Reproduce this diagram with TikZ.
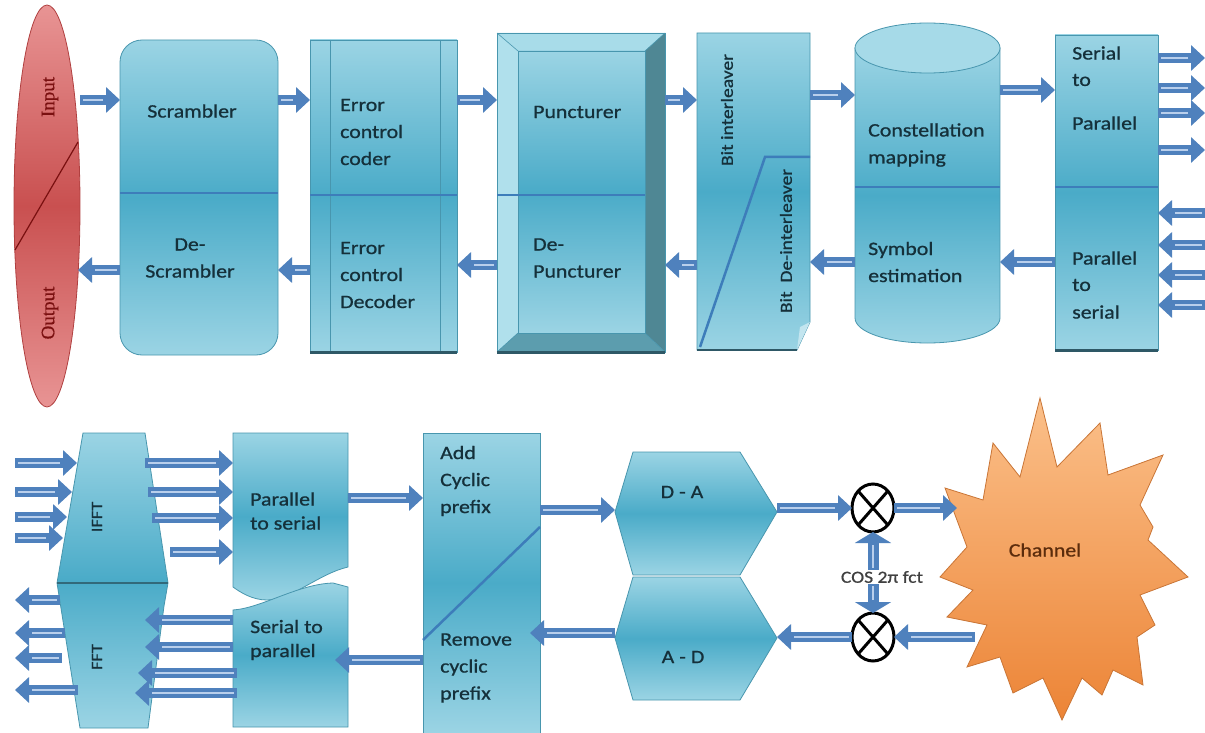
\documentclass[tikz,border=0pt]{standalone}
\usepackage{fontspec}
\setmainfont{Carlito}[FakeStretch=1.15,FakeBold=0.8]
\newfontfamily\ioserif{Liberation Serif}[FakeBold=0.6]
\usetikzlibrary{shapes.geometric,arrows.meta,calc}
\definecolor{boxL}{HTML}{9BD4E4}
\definecolor{boxM}{HTML}{4AABC8}
\definecolor{boxE}{HTML}{4896AE}
\definecolor{divl}{HTML}{3D7DBA}
\definecolor{arrblue}{HTML}{4F81BD}
\definecolor{arrL}{HTML}{B9CFEC}
\definecolor{txt}{HTML}{15303A}
\definecolor{redL}{HTML}{E89494}
\definecolor{redM}{HTML}{C95050}
\definecolor{redE}{HTML}{B04040}
\definecolor{redLine}{HTML}{7A1010}
\definecolor{orL}{HTML}{FBC08A}
\definecolor{orD}{HTML}{EC8436}
\definecolor{orE}{HTML}{C97536}
\definecolor{chTxt}{HTML}{5B2C0C}
\definecolor{shadowc}{HTML}{2E5866}
\definecolor{bevTop}{HTML}{A8DCE9}
\definecolor{bevLeft}{HTML}{B0E0EC}
\definecolor{bevRight}{HTML}{4F8794}
\definecolor{bevBot}{HTML}{5C9DAE}
\definecolor{cylTop}{HTML}{A6DAE8}
\begin{document}
\begin{tikzpicture}[x=1pt,y=-1pt,
  box/.style={draw=boxE, line width=0.8pt, top color=boxL, bottom color=boxL, middle color=boxM, inner sep=0pt, outer sep=0pt},
  hid/.style={inner sep=0pt, outer sep=0pt, draw=none},
  divider/.style={draw=divl, line width=2.5pt},
  shadowline/.style={draw=shadowc, line width=3pt},
  barrow/.style={draw=arrblue, line width=9.5pt, -{Triangle[length=14pt,width=25pt]}, postaction={draw=arrL, line width=2pt, -, shorten >=17pt, shorten <=3pt}},
  barrowS/.style={draw=arrblue, line width=11pt, -{Triangle[length=11pt,width=36pt]}, postaction={draw=arrL, line width=2pt, -, shorten >=13pt, shorten <=2pt}},
  lbl/.style={font=\fontsize{19}{27}\selectfont, text=txt, inner sep=0pt, align=left},
  lblb/.style={font=\fontsize{19}{24}\selectfont, text=txt, inner sep=0pt, align=left},
  rlbl/.style={font=\fontsize{17}{20}\selectfont, text=txt, inner sep=0pt, rotate=90},
  iolbl/.style={font=\ioserif\fontsize{19}{20}\selectfont, text=redLine, inner sep=0pt, rotate=90},
  mix/.style={ellipse, draw=black, line width=3pt, minimum width=42pt, minimum height=48pt, inner sep=0pt, outer sep=0pt}
]
\useasboundingbox (0,0) rectangle (1205,733);
\fill[white] (0,0) rectangle (1205,733);

% ---------------- top row ----------------
\node[ellipse, draw=redE, line width=0.8pt, top color=redL, bottom color=redL, middle color=redM, minimum width=66pt, minimum height=402pt, inner sep=0pt, outer sep=0pt] (io) at (47,206) {};
\draw[redLine, line width=1.2pt] (78,142) -- (15,250);
\node[iolbl] (inp) at (50,97) {Input};
\node[iolbl] (outp) at (50,313) {Output};

\node[box, rounded corners=22pt, minimum width=158pt, minimum height=315pt] (scr) at (199,197.5) {};
\draw[divider] (scr.west|-0,193) -- (scr.east|-0,193);
\node[lbl] (scrT) at (192,111) {Scrambler};
\node[lbl, align=center] (dscrT) at (190,258) {De-\\Scrambler};

\node[box, minimum width=147pt, minimum height=312pt] (ecc) at (383.5,196) {};
\draw[boxE, line width=0.8pt] (330,40) -- (330,352) (440,40) -- (440,352);
\draw[shadowline] (ecc.south west) -- (ecc.south east);
\draw[divider] (ecc.west|-0,195) -- (ecc.east|-0,195);
\node[lbl, anchor=west] (eccT) at (340,132) {Error\\control\\coder};
\node[lbl, anchor=west] (ecdT) at (340,275) {Error\\control\\Decoder};

\node[hid, minimum width=168pt, minimum height=319pt] (pun) at (581,192.5) {};
\fill[bevTop] (497,33) -- (665,33) -- (645,51) -- (518,51) -- cycle;
\fill[bevLeft] (497,33) -- (518,51) -- (518,333) -- (497,352) -- cycle;
\fill[bevRight] (665,33) -- (665,352) -- (645,333) -- (645,51) -- cycle;
\fill[bevBot] (497,352) -- (665,352) -- (645,333) -- (518,333) -- cycle;
\path[box] (518,51) rectangle (645,333);
\draw[boxE, line width=0.8pt] (pun.north west) rectangle (pun.south east);
\draw[boxE, line width=0.6pt] (497,33) -- (518,51) (665,33) -- (645,51) (665,352) -- (645,333) (497,352) -- (518,333);
\draw[shadowline] (pun.south west) -- (pun.south east);
\draw[divider] (pun.west|-0,195) -- (645,195);
\node[lbl, anchor=west] (punT) at (533,112) {Puncturer};
\node[lbl, anchor=west] (dpunT) at (533,258) {De-\\Puncturer};

\node[hid, minimum width=113pt, minimum height=317pt] (bit) at (753.5,191.5) {};
\path[box] (697,33) -- (810,33) -- (810,322) -- (797,350) -- (697,350) -- cycle;
\fill[boxL!60!white] (797,350) -- (800,327) -- (810,322) -- cycle;
\draw[divider] (700,347) -- (765,157) -- (810,157);
\draw[shadowc, line width=2.5pt] (697,350) -- (797,350);
\node[rlbl] (bitT) at (727,110) {Bit interleaver};
\node[rlbl] (dbitT) at (786,241) {Bit\ \ De-interleaver};

\node[hid, minimum width=145pt, minimum height=320pt] (cyl) at (927.5,183) {};
\path[box] (855,48) -- (855,318) arc[start angle=180,end angle=360,x radius=72.5pt,y radius=25pt] -- (1000,48) -- cycle;
\draw[divider] (855,187) -- (1000,187);
\filldraw[fill=cylTop, draw=boxE, line width=0.8pt] (927.5,48) ellipse [x radius=72.5pt, y radius=25pt];
\node[lbl, anchor=west] (conT) at (868,145) {Constellation\\mapping};
\node[lbl, anchor=west] (symT) at (868,262) {Symbol\\estimation};

\node[box, minimum width=103pt, minimum height=315pt] (sp) at (1106.5,192.5) {};
\draw[shadowline] (sp.south west) -- (sp.south east);
\draw[divider] (sp.west|-0,187) -- (sp.east|-0,187);
\node[lbl, anchor=west] (spT1) at (1072,53) {Serial};
\node[lbl, anchor=west] (spT2) at (1072,80) {to};
\node[lbl, anchor=west] (spT3) at (1072,123) {Parallel};
\node[lbl, anchor=west] (psT1) at (1072,258) {Parallel};
\node[lbl, anchor=west] (psT2) at (1072,285) {to};
\node[lbl, anchor=west] (psT3) at (1072,312) {serial};

% top arrows
\draw[barrow] (io.east|-0,100) -- (scr.west|-0,100);
\draw[barrow] (scr.west|-0,270) -- (78,270);
\draw[barrow] (scr.east|-0,100) -- (ecc.west|-0,100);
\draw[barrow] (ecc.west|-0,270) -- (scr.east|-0,270);
\draw[barrow] (ecc.east|-0,100) -- (pun.west|-0,100);
\draw[barrow] (pun.west|-0,265) -- (ecc.east|-0,265);
\draw[barrow] (pun.east|-0,100) -- (bit.west|-0,100);
\draw[barrow] (bit.west|-0,265) -- (pun.east|-0,265);
\draw[barrow] (bit.east|-0,95) -- (cyl.west|-0,95);
\draw[barrow] (cyl.west|-0,262) -- (bit.east|-0,262);
\draw[barrow] (cyl.east|-0,90) -- (sp.west|-0,90);
\draw[barrow] (sp.west|-0,262) -- (cyl.east|-0,262);
\foreach \yy in {58,88,113,150} \draw[barrow] (sp.east|-0,\yy) -- (1205,\yy);
\foreach \yy in {213,245,275,305} \draw[barrow] (1205,\yy) -- (sp.east|-0,\yy);

% ---------------- bottom row ----------------
\node[hid, minimum width=111pt, minimum height=295pt] (fft) at (112.5,580.5) {};
\path[box] (83,433) -- (145,433) -- (168,583) -- (164,606) -- (148,728) -- (80,728) -- (57,583) -- cycle;
\draw[boxE!70!black, line width=1.5pt] (57,583) -- (168,583);
\node[rlbl, font=\fontsize{16}{18}\selectfont] (ifftT) at (97,517) {IFFT};
\node[rlbl, font=\fontsize{16}{18}\selectfont] (fftT) at (97,657) {FFT};

\node[hid, minimum width=115pt, minimum height=167pt] (ps) at (290.5,516.5) {};
\path[box] (233,433) -- (348,433) -- (348,567) .. controls (318,574) and (292,600) .. (267,600) .. controls (252,600) and (240,592) .. (233,587) -- cycle;
\node[lblb, anchor=west] (psT) at (250,511) {Parallel\\to serial};

\node[hid, minimum width=115pt, minimum height=144pt] (sp2) at (290.5,655) {};
\path[box] (233,610) .. controls (262,608) and (298,584) .. (333,583) -- (348,587) -- (348,727) -- (233,727) -- cycle;
\node[lblb, anchor=west] (sp2T) at (250,640) {Serial to\\parallel};

\node[box, minimum width=117pt, minimum height=300pt] (acp) at (481.5,583) {};
\draw[divider] (acp.east|-0,527) -- (acp.west|-0,640);
\node[lbl, anchor=west] (acpT) at (440,481) {Add\\Cyclic\\prefix};
\node[lbl, anchor=west] (rcpT) at (440,668) {Remove\\cyclic\\prefix};

\node[hid, minimum width=162pt, minimum height=123pt] (da) at (696,513.5) {};
\path[box] (633,452) -- (740,452) -- (777,512) -- (740,575) -- (633,575) -- (615,512) -- cycle;
\node[lbl] (daT) at (682,492) {D - A};
\node[hid, minimum width=162pt, minimum height=123pt] (ad) at (696,638.5) {};
\path[box] (633,577) -- (740,577) -- (777,638) -- (740,700) -- (633,700) -- (615,638) -- cycle;
\node[lbl] (adT) at (683,657) {A - D};

\node[mix] (m1) at (873,508) {};
\draw[line width=3pt] (m1.north west) -- (m1.south east) (m1.north east) -- (m1.south west);
\node[mix] (m2) at (873,637) {};
\draw[line width=3pt] (m2.north west) -- (m2.south east) (m2.north east) -- (m2.south west);
\node[font=\fontsize{17}{18}\selectfont, text=black!75, inner sep=1pt] (cos) at (882,577) {COS 2π fct};

\node[hid, minimum width=245pt, minimum height=324pt] (ch) at (1065,560) {};
\path[draw=orE, line width=0.8pt, top color=orL, bottom color=orD]
  (1040,398) -- (1057,467) -- (1100,423) -- (1108,475) -- (1163,455) -- (1140,505) -- (1153,527) -- (1148,540) -- (1188,577) -- (1140,595) -- (1155,625) -- (1137,637) -- (1143,685) -- (1113,670) -- (1102,695) -- (1082,678) -- (1062,720) -- (1043,678) -- (1013,693) -- (1000,657) -- (967,667) -- (987,625) -- (947,617) -- (973,590) -- (940,577) -- (967,547) -- (945,488) -- (983,500) -- (993,443) -- (1020,477) -- cycle;
\node[font=\fontsize{19}{20}\selectfont, text=chTxt] (chT) at (1045,550) {Channel};

% bottom arrows
\draw[barrow] (15,463) -- (77,463);
\draw[barrow] (15,492) -- (72,492);
\draw[barrow] (15,517) -- (67,517);
\draw[barrow] (15,538) -- (63,538);
\draw[barrow] (145,463) -- (ps.west|-0,463);
\draw[barrow] (148,492) -- (ps.west|-0,492);
\draw[barrow] (152,518) -- (ps.west|-0,518);
\draw[barrow] (170,552) -- (ps.west|-0,552);
\draw[barrow] (ps.east|-0,498) -- (acp.west|-0,498);
\draw[barrow] (acp.east|-0,510) -- (da.west|-0,510);
\draw[barrow] (da.east|-m1.west) -- (m1.west);
\draw[barrow] (m1.east) -- (957,508);
\draw[barrow] (975,637) -- (m2.east);
\draw[barrow] (m2.west) -- (ad.east|-m2.west);
\draw[barrow] (ad.west|-0,633) -- (530,633);
\draw[barrow] (acp.west|-0,660) -- (335,660);
\draw[barrow] (sp2.west|-0,620) -- (145,620);
\draw[barrow] (sp2.west|-0,647) -- (145,647);
\draw[barrow] (237,673) -- (138,673);
\draw[barrow] (237,693) -- (135,693);
\draw[barrow] (60,600) -- (15,600);
\draw[barrow] (65,633) -- (15,633);
\draw[barrow] (62,658) -- (15,658);
\draw[barrow] (78,690) -- (15,690);
\draw[barrowS] (cos.north-|m1.south) -- (m1.south);
\draw[barrowS] (cos.south-|m2.north) -- (m2.north);
\end{tikzpicture}
\end{document}
